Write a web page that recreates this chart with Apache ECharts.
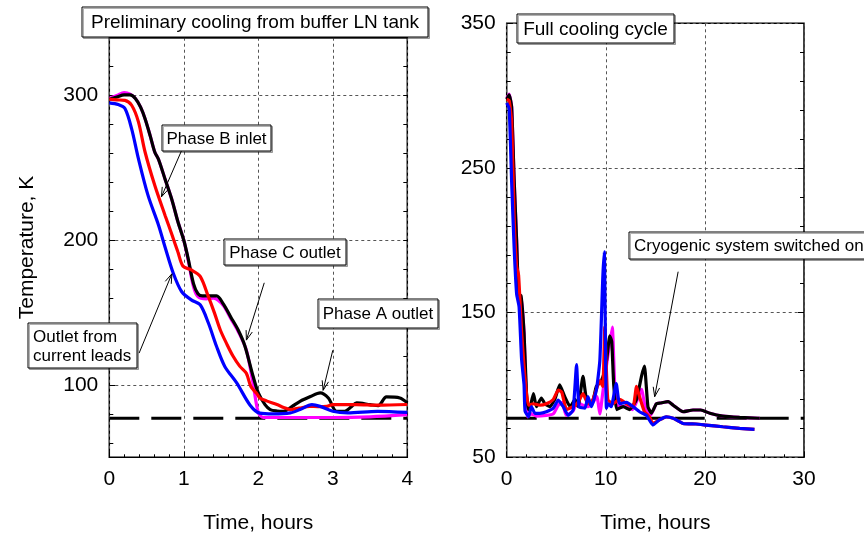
<!DOCTYPE html>
<html><head><meta charset="utf-8">
<script src="https://cdn.jsdelivr.net/npm/echarts@6/dist/echarts.min.js"></script>
<style>html,body{margin:0;padding:0;background:#fff}#c{width:864px;height:535px}</style>
</head><body><div id="c"></div>
<script>
// ---------- data (time in hours, temperature in K) ----------
const lnLevel = 77;
const leftTimeRange = [0, 4];
const rightTimeRange = [0, 30];

const leftPhaseA = [[0,297.5],[0.1,299],[0.2,300.5],[0.28,300.5],[0.35,298],[0.42,292],[0.48,284],[0.55,272],[0.61,261],[0.66,256],[0.75,242],[0.84,228],[0.92,213],[1.0,200],[1.06,187],[1.13,170],[1.19,163],[1.25,161.5],[1.31,161.6],[1.44,161.6],[1.53,156],[1.63,147],[1.73,138],[1.82,127],[1.93,106],[2.0,94.5],[2.09,86.4],[2.16,83],[2.25,82],[2.34,81.8],[2.45,85],[2.56,88.7],[2.7,92],[2.83,94.5],[2.94,91],[3.05,81.8],[3.16,81.8],[3.25,85],[3.32,87.6],[3.5,86.4],[3.61,85.7],[3.72,91.7],[3.9,91],[4.0,87.6]];
const leftPhaseB = [[0,297.5],[0.1,297],[0.21,296.7],[0.3,293.3],[0.39,282],[0.48,261],[0.61,238],[0.75,217],[0.84,204],[0.92,192],[0.99,182],[1.1,179.5],[1.22,175],[1.33,161],[1.41,150],[1.49,138],[1.58,128],[1.66,120],[1.75,113],[1.84,108],[1.9,99],[1.98,94],[2.02,91],[2.11,89],[2.25,86.5],[2.34,84.5],[2.43,83],[2.55,84],[2.69,85.2],[2.8,85],[2.92,85.2],[3.0,86.4],[3.32,86.4],[3.6,86],[4.0,86.5]];
const leftPhaseC = [[0,298],[0.1,300],[0.2,302],[0.28,301],[0.35,298],[0.42,292],[0.48,284],[0.55,272],[0.61,261],[0.66,256],[0.75,242],[0.84,228],[0.92,213],[1.0,200],[1.06,186],[1.13,168],[1.19,161],[1.3,159.5],[1.4,160],[1.53,155],[1.63,146],[1.73,137],[1.84,124],[1.93,101],[2.0,81],[2.07,77.5],[2.5,77.5],[3.0,77.5],[3.5,78],[4.0,79.5]];
const leftLeads = [[0,295],[0.12,293.8],[0.21,291],[0.3,277],[0.39,256.6],[0.52,231],[0.66,210.6],[0.75,195],[0.86,177],[0.97,164.6],[1.1,158.8],[1.22,155.4],[1.33,142.8],[1.44,126.6],[1.55,112.8],[1.71,101.4],[1.89,86],[2.02,80.5],[2.2,80],[2.43,80.7],[2.56,83],[2.72,86.4],[2.83,85.2],[3.0,81.8],[3.2,80.7],[3.6,81.8],[4.0,81]];

const rightPhaseA = [[0,297.5],[0.25,300.5],[0.5,292],[0.75,242],[1.0,200],[1.2,163],[1.45,161.6],[1.75,136],[2.0,94],[2.2,83],[2.35,84],[2.7,94],[3.0,85],[3.5,91],[3.85,87],[4.35,85],[4.85,90],[5.35,100],[5.85,92],[6.4,85],[6.9,90],[7.2,85],[7.7,106],[8.05,90],[8.55,86],[9.05,99],[9.55,103],[9.9,110],[10.1,118],[10.4,134],[10.6,130],[10.8,100],[11.1,83],[11.75,85],[12.4,83],[13.1,90],[13.6,106],[13.9,113],[14.25,85],[14.6,80.5],[15.1,87],[15.5,87.5],[16.3,88.5],[16.8,86],[17.8,81.5],[18.8,82.7],[19.6,82.7],[20.5,80.4],[21.8,78.5],[23.5,77.6],[25.5,77]];
const rightPhaseB = [[0,297.5],[0.25,296.5],[0.5,282],[0.75,217],[1.0,182],[1.2,176],[1.5,137],[1.75,113],[2.0,94],[2.2,86],[2.7,87],[3.35,86],[4.0,87],[4.7,90],[5.2,96.5],[5.55,95],[6.05,83],[6.7,85],[7.2,88],[7.7,94],[8.2,87],[8.7,90],[9.4,103],[9.7,99],[9.9,140],[10.2,90],[10.7,87],[11.4,90],[12.1,87],[12.75,85],[13.1,99],[13.4,92],[13.9,81.5],[14.4,78],[14.75,73.5],[15.4,75.8],[16.1,78],[16.8,77],[17.8,73.4],[19.1,73],[20.1,72.3],[21.8,71.1],[23.5,70],[25,69.3]];
const rightPhaseC = [[0,298],[0.25,301],[0.5,292],[0.75,242],[1.0,200],[1.2,161],[1.45,160],[1.75,136],[1.95,95],[2.1,78],[2.5,80],[3.0,78.5],[4.0,79],[4.7,80],[5.2,86],[5.6,88],[6.0,79],[6.7,82],[7.1,88],[7.7,86],[8.2,85],[8.7,88],[9.1,92],[9.4,80],[9.7,95],[10.2,120],[10.65,140],[10.9,100],[11.2,85],[12,85],[12.7,83],[13.2,90],[13.6,97],[14,84],[14.5,79],[15.1,87],[15.5,87.5],[16.3,88.5],[16.8,86],[17.8,81.5],[18.8,82.7],[19.6,82.7],[20.5,80.4],[21.8,78.5],[23.5,77.6],[25.5,77]];
const rightLeads = [[0,295],[0.25,291],[0.5,240],[0.75,195],[1.0,163],[1.25,154],[1.5,118],[1.75,100],[1.85,82],[2.2,78],[2.5,85],[2.85,80.4],[3.35,80.4],[4.0,81.5],[4.7,84],[5.2,89.6],[5.7,85],[6.2,79],[6.7,82.7],[7.05,114],[7.3,85],[7.9,84],[8.2,92],[8.55,85],[9.05,96.5],[9.4,117],[9.7,175],[9.85,192],[10.06,84],[10.25,87],[10.55,85],[11.05,101],[11.4,87],[12.1,88],[12.75,85],[13.4,81.5],[14.1,79],[14.75,72.3],[15.4,75.8],[16.1,78],[16.8,77],[17.8,73.4],[19.1,73],[20.1,72.3],[21.8,71.1],[23.5,70],[25,69.3]];

const leftYLabels = [100, 200, 300];
const leftYMinor = [60,80,100,120,140,160,180,200,220,240,260,280,300,320,340];
const rightYLabels = [50, 150, 250, 350];

// annotation arrows in data coordinates [time, K]
const leftArrows = [
  {from:[0.97,262], to:[0.70,230]},
  {from:[2.08,170.6], to:[1.84,131]},
  {from:[3.0,124], to:[2.87,96.3]},
  {from:[0.40,122], to:[0.84,176.8]}
];
const rightArrows = [
  {from:[17.3,178.3], to:[14.93,91.9]}
];

// ---------- chart ----------
const FONT = 'Liberation Sans, Arial, sans-serif';
const chart = echarts.init(document.getElementById('c'));

const dashStyle = {color:'#555', type:[3,3], width:1};
function xAx(grid, range, interval, name) {
  return {
    gridIndex: grid, type:'value', min: range[0], max: range[1], interval: interval,
    axisLine:{show:false},
    axisTick:{show:true, inside:true, length:6, lineStyle:{color:'#000'}},
    minorTick:{show:true, splitNumber:5, length:3, lineStyle:{color:'#000'}},
    splitLine:{show:true, lineStyle:dashStyle},
    axisLabel:{fontSize:21, color:'#000', fontFamily:FONT, margin:11},
    name: name, nameLocation:'middle', nameGap:55,
    nameTextStyle:{fontSize:21, color:'#000', fontFamily:FONT}
  };
}
const xAxes = [xAx(0, leftTimeRange, 1, 'Time, hours'), xAx(1, rightTimeRange, 10, 'Time, hours')];
const yAxes = [
  { gridIndex:0, type:'value', position:'left', min:50, max:340,
    axisLine:{show:false},
    axisTick:{show:true, inside:true, length:6, customValues:leftYLabels, lineStyle:{color:'#000'}},
    axisLabel:{fontSize:21, color:'#000', fontFamily:FONT, margin:11, customValues:leftYLabels},
    splitLine:{show:true, lineStyle:dashStyle},
    name:'Temperature, K', nameLocation:'middle', nameGap:72,
    nameTextStyle:{fontSize:21, color:'#000', fontFamily:FONT}
  },
  { gridIndex:0, type:'value', position:'left', min:50, max:340,
    axisLine:{show:false}, axisLabel:{show:false}, splitLine:{show:false},
    axisTick:{show:true, inside:true, length:4, customValues:leftYMinor, lineStyle:{color:'#000'}}
  },
  { gridIndex:0, type:'value', position:'right', min:50, max:340,
    axisLine:{show:false}, axisLabel:{show:false}, splitLine:{show:false},
    axisTick:{show:true, inside:true, length:4, customValues:leftYMinor, lineStyle:{color:'#000'}}
  },
  { gridIndex:1, type:'value', position:'left', min:50, max:350, interval:100,
    axisLine:{show:false},
    axisTick:{show:true, inside:true, length:6, lineStyle:{color:'#000'}},
    minorTick:{show:true, splitNumber:5, length:4, lineStyle:{color:'#000'}},
    axisLabel:{fontSize:21, color:'#000', fontFamily:FONT, margin:11},
    splitLine:{show:true, lineStyle:dashStyle}
  },
  { gridIndex:1, type:'value', position:'right', min:50, max:350, interval:100,
    axisLine:{show:false}, axisLabel:{show:false}, splitLine:{show:false},
    axisTick:{show:true, inside:true, length:6, lineStyle:{color:'#000'}},
    minorTick:{show:true, splitNumber:5, length:4, lineStyle:{color:'#000'}}
  }
];

function line(data, color, xi, yi, extra) {
  return Object.assign({
    type:'line', data:data, xAxisIndex:xi, yAxisIndex:yi,
    symbol:'none', showSymbol:false, smooth:0.3, animation:false,
    lineStyle:{color:color, width:3.2}, itemStyle:{color:color}, z:3
  }, extra || {});
}
const lnStyle = {color:'#000', width:3, type:[30,12]};
const series = [
  line([[leftTimeRange[0],lnLevel],[leftTimeRange[1],lnLevel]], '#000', 0, 0, {smooth:false, lineStyle:lnStyle}),
  line(leftPhaseC, '#ff00ff', 0, 0),
  line(leftPhaseA, '#000000', 0, 0),
  line(leftPhaseB, '#ff0000', 0, 0),
  line(leftLeads, '#0000ff', 0, 0),
  line([[rightTimeRange[0],lnLevel],[rightTimeRange[1],lnLevel]], '#000', 1, 3, {smooth:false, lineStyle:lnStyle}),
  line(rightPhaseC, '#ff00ff', 1, 3, {smooth:0.15}),
  line(rightPhaseA, '#000000', 1, 3, {smooth:0.15}),
  line(rightPhaseB, '#ff0000', 1, 3, {smooth:0.15}),
  line(rightLeads, '#0000ff', 1, 3, {smooth:0.15})
];

chart.setOption({
  backgroundColor:'#fff',
  animation:false,
  grid:[
    {left:109.3, top:37.7, width:298, height:419.6, show:true, borderColor:'#000', borderWidth:1.5, backgroundColor:'transparent', outerBoundsMode:'none', containLabel:false},
    {left:506.7, top:23.3, width:297.3, height:434, show:true, borderColor:'#000', borderWidth:1.5, backgroundColor:'transparent', outerBoundsMode:'none', containLabel:false}
  ],
  xAxis: xAxes,
  yAxis: yAxes,
  series: series
});

// ---------- annotations ----------
const boxes = [
  {text:'Preliminary cooling from buffer LN tank', x:82, y:7, w:346, h:30, size:19, align:'center'},
  {text:'Full cooling cycle', x:517, y:14, w:157, h:29, size:19, align:'center'},
  {text:'Phase B inlet', x:162, y:125, w:109, h:26, size:17, align:'center'},
  {text:'Phase C outlet', x:224, y:239, w:122, h:26, size:17, align:'center'},
  {text:'Phase A outlet', x:318, y:299, w:120, h:29, size:17, align:'center'},
  {text:'Outlet from\ncurrent leads', x:28, y:323, w:109, h:45, size:17, align:'left'},
  {text:'Cryogenic system switched on', x:629, y:232, w:260, h:27, size:17, align:'left'}
];
const graphics = [];
function addArrows(list, seriesIndex) {
  list.forEach(a => {
    const p1 = chart.convertToPixel({seriesIndex:seriesIndex}, a.from);
    const p2 = chart.convertToPixel({seriesIndex:seriesIndex}, a.to);
    const dx = p2[0]-p1[0], dy = p2[1]-p1[1];
    const len = Math.sqrt(dx*dx+dy*dy);
    const ux = dx/len, uy = dy/len;
    const L = 10, th = 0.33;
    const h1 = [p2[0] - L*(ux*Math.cos(th) - uy*Math.sin(th)), p2[1] - L*(uy*Math.cos(th) + ux*Math.sin(th))];
    const h2 = [p2[0] - L*(ux*Math.cos(-th) - uy*Math.sin(-th)), p2[1] - L*(uy*Math.cos(-th) + ux*Math.sin(-th))];
    graphics.push({type:'line', z:50, shape:{x1:p1[0], y1:p1[1], x2:p2[0], y2:p2[1]}, style:{stroke:'#000', lineWidth:1}});
    graphics.push({type:'polyline', z:50, shape:{points:[h1, p2, h2]}, style:{stroke:'#000', lineWidth:1, fill:null}});
  });
}
addArrows(leftArrows, 2);
addArrows(rightArrows, 7);
boxes.forEach(b => {
  graphics.push({type:'rect', z:60, shape:{x:b.x, y:b.y, width:b.w, height:b.h},
    style:{fill:'#fff', stroke:'#000', lineWidth:1, shadowColor:'rgba(0,0,0,0.3)', shadowOffsetX:1.5, shadowOffsetY:1.5, shadowBlur:0}});
  const tx = b.align === 'center' ? b.x + b.w/2 : b.x + 5;
  graphics.push({type:'text', z:61, style:{text:b.text, x:tx, y:b.y + b.h/2 + 1, align:b.align, verticalAlign:'middle',
    font: b.size + 'px ' + FONT, fill:'#000', lineHeight:19}});
});
chart.setOption({graphic: graphics});
</script>
</body></html>
